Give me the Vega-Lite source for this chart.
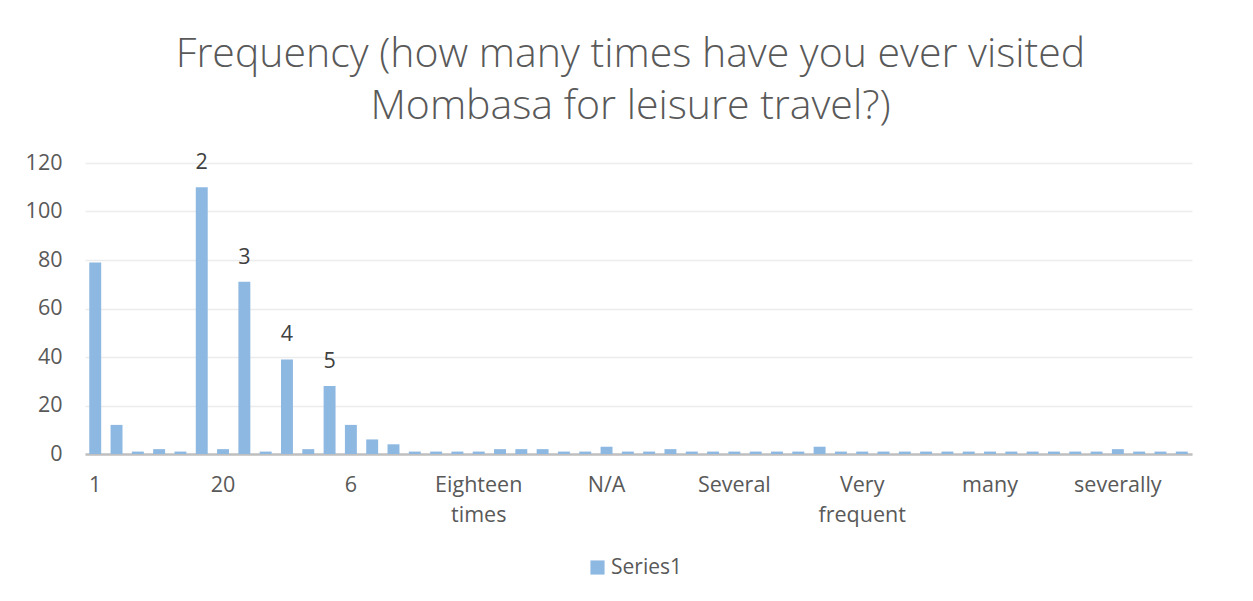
{
  "$schema": "https://vega.github.io/schema/vega-lite/v6.json",
  "autosize": {"type": "none"},
  "width": 1107,
  "height": 291,
  "padding": {"left": 85, "top": 163, "right": 61, "bottom": 147},
  "background": "white",
  "title": {
    "text": ["Frequency (how many times have you ever visited", "Mombasa for leisure travel?)"],
    "font": "Open Sans",
    "fontWeight": 300,
    "fontSize": 41,
    "color": "#595959",
    "lineHeight": 52,
    "anchor": "middle",
    "dx": -8,
    "offset": 24
  },
  "data": {
    "values": [
      {"category": "1", "count": 79},
      {"category": "10", "count": 12},
      {"category": "100", "count": 1},
      {"category": "15", "count": 2},
      {"category": "18", "count": 1},
      {"category": "2", "count": 110},
      {"category": "20", "count": 2},
      {"category": "3", "count": 71},
      {"category": "30", "count": 1},
      {"category": "4", "count": 39},
      {"category": "40", "count": 2},
      {"category": "5", "count": 28},
      {"category": "6", "count": 12},
      {"category": "7", "count": 6},
      {"category": "8", "count": 4},
      {"category": "9", "count": 1},
      {"category": "A lot", "count": 1},
      {"category": "Countless", "count": 1},
      {"category": "Eighteen times", "count": 1},
      {"category": "Every year", "count": 2},
      {"category": "Frequently", "count": 2},
      {"category": "Many times", "count": 2},
      {"category": "More than 10", "count": 1},
      {"category": "More than 20", "count": 1},
      {"category": "N/A", "count": 3},
      {"category": "Never", "count": 1},
      {"category": "None", "count": 1},
      {"category": "Once", "count": 2},
      {"category": "Once a year", "count": 1},
      {"category": "Over 10", "count": 1},
      {"category": "Several", "count": 1},
      {"category": "Several times", "count": 1},
      {"category": "Thrice", "count": 1},
      {"category": "Too many", "count": 1},
      {"category": "Twice", "count": 3},
      {"category": "Uncountable", "count": 1},
      {"category": "Very frequent", "count": 1},
      {"category": "Very often", "count": 1},
      {"category": "a lot", "count": 1},
      {"category": "countless", "count": 1},
      {"category": "frequently", "count": 1},
      {"category": "lots", "count": 1},
      {"category": "many", "count": 1},
      {"category": "many times", "count": 1},
      {"category": "more than 10", "count": 1},
      {"category": "numerous", "count": 1},
      {"category": "often", "count": 1},
      {"category": "once", "count": 1},
      {"category": "severally", "count": 2},
      {"category": "thrice", "count": 1},
      {"category": "twice", "count": 1},
      {"category": "yearly", "count": 1}
    ]
  },
  "encoding": {
    "x": {
      "field": "category",
      "type": "nominal",
      "sort": null,
      "scale": {"paddingInner": 0.44, "paddingOuter": 0.2},
      "axis": {
        "title": null,
        "labelAngle": 0,
        "labelOverlap": false,
        "labelExpr": "indexof(['1','20','6','Eighteen times','N/A','Several','Very frequent','many','severally'], datum.value) >= 0 ? split(datum.value, ' ') : ''",
        "labelFont": "Open Sans",
        "labelFontSize": 21.5,
        "labelColor": "#595959",
        "labelLineHeight": 30,
        "labelPadding": 20,
        "labelBaseline": "top",
        "ticks": false,
        "domainColor": "#bfbfbf",
        "domainWidth": 2.5,
        "grid": false
      }
    },
    "y": {
      "field": "count",
      "type": "quantitative",
      "scale": {"domain": [0, 120]},
      "axis": {
        "title": null,
        "values": [0, 20, 40, 60, 80, 100, 120],
        "labelFont": "Open Sans",
        "labelFontSize": 21.5,
        "labelColor": "#595959",
        "labelPadding": 23,
        "ticks": false,
        "domain": false,
        "gridColor": "#ececec",
        "gridWidth": 1.5
      }
    }
  },
  "layer": [
    {
      "mark": {"type": "bar", "color": "#8db8e1"},
      "encoding": {
        "color": {
          "datum": "Series1",
          "type": "nominal",
          "scale": {"range": ["#8db8e1"]},
          "legend": {
            "title": null,
            "orient": "none",
            "legendX": 502,
            "legendY": 394,
            "symbolType": "square",
            "symbolSize": 200,
            "symbolStrokeWidth": 0,
            "labelFont": "Open Sans",
            "labelFontSize": 21,
            "labelColor": "#595959",
            "labelOffset": 3
          }
        }
      }
    },
    {
      "transform": [{"filter": "indexof(['2','3','4','5'], datum.category) >= 0"}],
      "mark": {"type": "text", "baseline": "bottom", "dy": -13, "font": "Open Sans", "fontSize": 21.5, "color": "#404040"},
      "encoding": {"text": {"field": "category"}}
    }
  ],
  "config": {
    "view": {"stroke": null}
  }
}
